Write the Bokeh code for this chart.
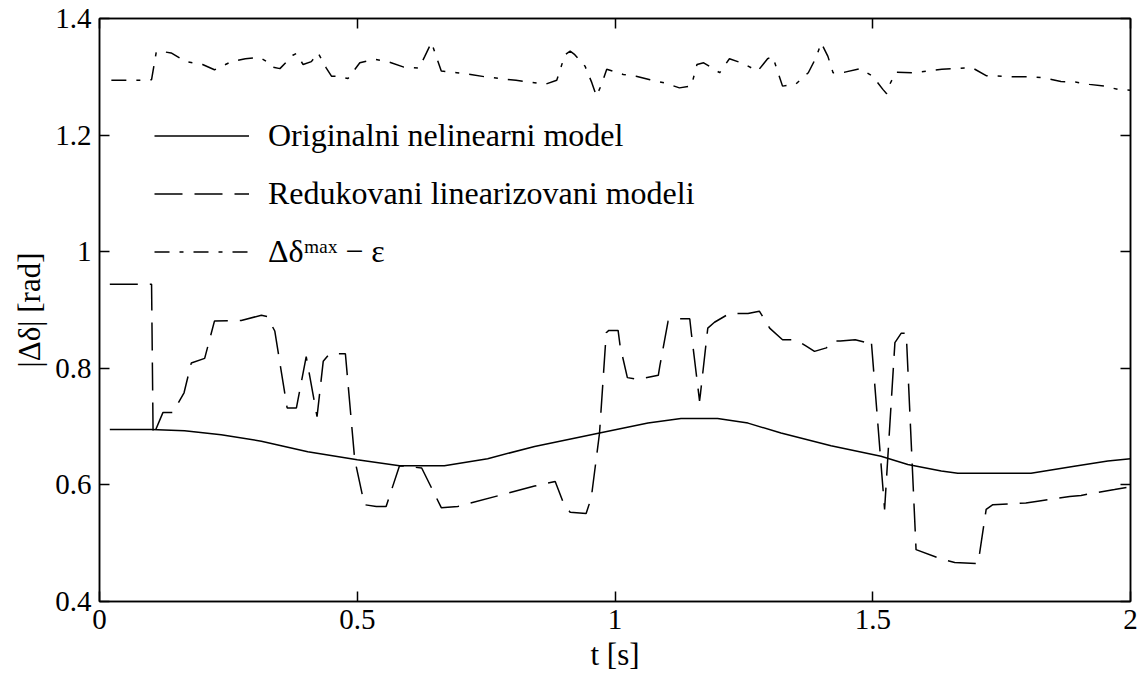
from bokeh.plotting import figure
from bokeh.models import Range1d, FixedTicker, LinearAxis, Legend, LegendItem
from bokeh.embed import file_html
from bokeh.resources import INLINE

# ---- data ----
t_orig = [0.02, 0.10, 0.165, 0.236, 0.314, 0.404, 0.50, 0.582, 0.669, 0.753, 0.844,
          0.97, 1.064, 1.128, 1.199, 1.258, 1.322, 1.419, 1.516, 1.568, 1.633, 1.665,
          1.807, 1.891, 1.956, 2.0]
v_orig = [0.695, 0.695, 0.693, 0.686, 0.675, 0.657, 0.643, 0.633, 0.633, 0.645, 0.666,
          0.689, 0.706, 0.714, 0.714, 0.706, 0.689, 0.667, 0.649, 0.635, 0.624, 0.620,
          0.620, 0.632, 0.641, 0.645]

t_red = [0.02, 0.101, 0.104, 0.123, 0.142, 0.164, 0.178, 0.204, 0.223, 0.275, 0.314,
         0.325, 0.340, 0.364, 0.382, 0.401, 0.422, 0.434, 0.446, 0.477, 0.495, 0.514,
         0.537, 0.556, 0.582, 0.625, 0.663, 0.695, 0.844, 0.884, 0.900, 0.913, 0.944,
         0.954, 0.970, 0.983, 0.988, 1.006, 1.010, 1.024, 1.045, 1.084, 1.087, 1.103,
         1.125, 1.145, 1.148, 1.164, 1.166, 1.180, 1.193, 1.222, 1.258, 1.280, 1.300,
         1.325, 1.351, 1.371, 1.387, 1.410, 1.423, 1.437, 1.466, 1.488, 1.497, 1.523,
         1.543, 1.555, 1.565, 1.584, 1.636, 1.659, 1.704, 1.707, 1.720, 1.733, 1.797,
         1.820, 1.882, 1.904, 1.969, 2.0]
v_red = [0.944, 0.944, 0.684, 0.724, 0.724, 0.758, 0.809, 0.817, 0.881, 0.882, 0.891,
         0.889, 0.864, 0.732, 0.732, 0.820, 0.717, 0.812, 0.825, 0.825, 0.644, 0.566,
         0.563, 0.563, 0.633, 0.629, 0.561, 0.563, 0.598, 0.606, 0.569, 0.553, 0.551,
         0.578, 0.689, 0.861, 0.865, 0.865, 0.838, 0.784, 0.781, 0.788, 0.804, 0.881,
         0.885, 0.885, 0.861, 0.744, 0.758, 0.869, 0.879, 0.894, 0.894, 0.898, 0.869,
         0.849, 0.849, 0.838, 0.829, 0.835, 0.847, 0.847, 0.849, 0.844, 0.849, 0.558,
         0.844, 0.860, 0.860, 0.489, 0.472, 0.467, 0.465, 0.481, 0.558, 0.566, 0.569,
         0.572, 0.580, 0.582, 0.592, 0.597]

t_max = [0.023, 0.08, 0.101, 0.11, 0.116, 0.139, 0.168, 0.2, 0.223, 0.256, 0.283,
         0.311, 0.323, 0.333, 0.35, 0.375, 0.382, 0.395, 0.411, 0.424, 0.44, 0.45,
         0.46, 0.482, 0.505, 0.533, 0.56, 0.589, 0.62, 0.631, 0.644, 0.654, 0.663,
         0.693, 0.72, 0.748, 0.777, 0.808, 0.835, 0.864, 0.887, 0.903, 0.913, 0.922,
         0.942, 0.955, 0.964, 0.974, 0.984, 1.006, 1.016, 1.041, 1.068, 1.098, 1.125,
         1.148, 1.159, 1.172, 1.203, 1.222, 1.245, 1.277, 1.296, 1.306, 1.316, 1.325,
         1.35, 1.375, 1.39, 1.40, 1.413, 1.423, 1.446, 1.475, 1.50, 1.52, 1.527,
         1.533, 1.545, 1.578, 1.607, 1.634, 1.678, 1.694, 1.72, 1.775, 1.81, 1.833,
         1.865, 1.893, 1.92, 1.95, 1.977, 2.0]
v_max = [1.294, 1.294, 1.295, 1.342, 1.344, 1.341, 1.326, 1.321, 1.312, 1.326, 1.331,
         1.333, 1.327, 1.317, 1.314, 1.337, 1.340, 1.321, 1.326, 1.341, 1.315, 1.301,
         1.301, 1.297, 1.324, 1.330, 1.326, 1.317, 1.315, 1.335, 1.359, 1.333, 1.310,
         1.307, 1.304, 1.300, 1.297, 1.294, 1.291, 1.287, 1.294, 1.338, 1.344, 1.338,
         1.318, 1.290, 1.267, 1.287, 1.313, 1.307, 1.304, 1.301, 1.295, 1.289, 1.281,
         1.284, 1.321, 1.324, 1.307, 1.331, 1.324, 1.310, 1.331, 1.335, 1.308, 1.284,
         1.287, 1.307, 1.333, 1.358, 1.335, 1.307, 1.308, 1.314, 1.301, 1.278, 1.271,
         1.287, 1.308, 1.307, 1.310, 1.313, 1.315, 1.315, 1.302, 1.300, 1.300, 1.298,
         1.292, 1.291, 1.287, 1.284, 1.278, 1.277]

x_ticks = [0, 0.5, 1, 1.5, 2]
x_tick_labels = ["0", "0.5", "1", "1.5", "2"]
y_ticks = [0.4, 0.6, 0.8, 1.0, 1.2, 1.4]
y_tick_labels = ["0.4", "0.6", "0.8", "1", "1.2", "1.4"]

labels = ["Originalni nelinearni model", "Redukovani linearizovani modeli", "Δδᵐᵃˣ − ε"]

FONT = "'Liberation Serif', 'Times New Roman', serif"
FS = "29px"

p = figure(width=1138, height=674, output_backend="svg", toolbar_location=None,
           x_range=Range1d(0, 2), y_range=Range1d(0.4, 1.4),
           min_border_left=99, min_border_right=8, min_border_top=18, min_border_bottom=73)
p.xgrid.visible = False
p.ygrid.visible = False
p.outline_line_color = "black"
p.outline_line_width = 1.5
p.background_fill_color = "white"
p.border_fill_color = "white"

def style_axis(ax, ticks, overrides, show_labels=True):
    ax.ticker = FixedTicker(ticks=ticks)
    ax.major_label_overrides = {t: s for t, s in zip(ticks, overrides)}
    ax.major_tick_in = 10
    ax.major_tick_out = 0
    ax.minor_tick_line_color = None
    ax.axis_line_color = "black"
    ax.axis_line_width = 1.5
    ax.major_tick_line_width = 1.5
    ax.major_tick_line_color = "black"
    if show_labels:
        ax.major_label_text_font = FONT
        ax.major_label_text_font_size = FS
        ax.major_label_text_color = "black"
        ax.major_label_standoff = 8
    else:
        ax.major_label_text_font_size = "0px"
        ax.major_label_standoff = 0

style_axis(p.xaxis[0], x_ticks, x_tick_labels)
style_axis(p.yaxis[0], y_ticks, y_tick_labels)
p.xaxis[0].axis_label = "t [s]"
p.yaxis[0].axis_label = "|Δδ| [rad]"
for ax in (p.xaxis[0], p.yaxis[0]):
    ax.axis_label_text_font = FONT
    ax.axis_label_text_font_size = "31px"
    ax.axis_label_text_font_style = "normal"
    ax.axis_label_text_color = "black"
    ax.axis_label_standoff = 5

top = LinearAxis()
style_axis(top, x_ticks, ["" for _ in x_ticks], show_labels=False)
p.add_layout(top, "above")
right = LinearAxis()
style_axis(right, y_ticks, ["" for _ in y_ticks], show_labels=False)
p.add_layout(right, "right")

r1 = p.line(t_orig, v_orig, line_color="black", line_width=1.5)
r2 = p.line(t_red, v_red, line_color="black", line_width=1.5, line_dash="28 12")
r3 = p.line(t_max, v_max, line_color="black", line_width=1.5, line_dash="15 10 4 10")

legend = Legend(items=[LegendItem(label=labels[0], renderers=[r1]),
                       LegendItem(label=labels[1], renderers=[r2]),
                       LegendItem(label=labels[2], renderers=[r3])],
                location=(55, 331))
legend.border_line_color = None
legend.background_fill_alpha = 0
legend.padding = 0
legend.margin = 0
legend.spacing = 21
legend.glyph_width = 95
legend.glyph_height = 37
legend.label_height = 37
legend.label_standoff = 19
legend.label_text_font = FONT
legend.label_text_font_size = "32px"
legend.label_text_color = "black"
p.add_layout(legend, "center")

open("out.html", "w").write(file_html(p, INLINE))
